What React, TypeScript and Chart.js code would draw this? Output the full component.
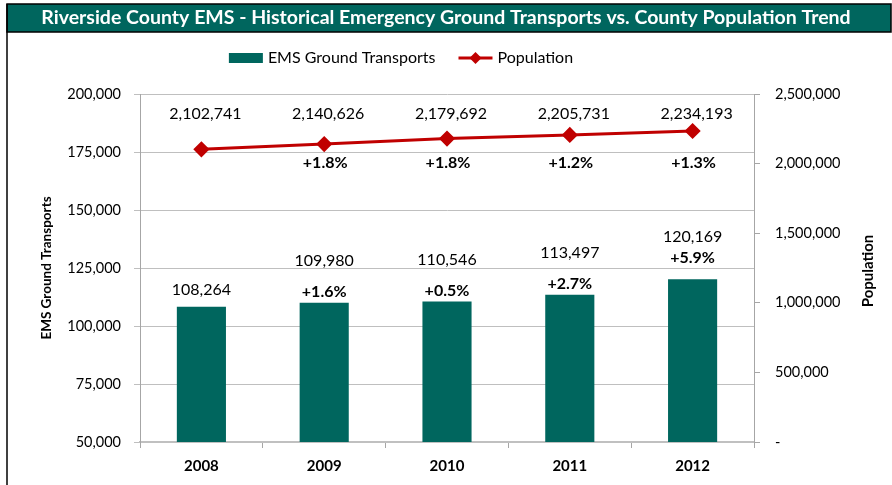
import React, { useEffect, useRef } from "react";
import { Chart, registerables } from "chart.js";

Chart.register(...registerables);

const TITLE =
  "Riverside County EMS - Historical Emergency Ground Transports vs. County Population Trend";
const years = ["2008", "2009", "2010", "2011", "2012"];
const transports = [108264, 109980, 110546, 113497, 120169];
const population = [2102741, 2140626, 2179692, 2205731, 2234193];
const leftAxisTitle = "EMS Ground Transports";
const rightAxisTitle = "Population";
const seriesNames = ["EMS Ground Transports", "Population"];

const TEAL = "#00665E";
const RED = "#C00000";
const FONT = 'Lato, "Open Sans", "DejaVu Sans", sans-serif';

const fmt = (n: number) => n.toLocaleString("en-US");
const pct = (arr: number[], i: number) =>
  "+" + ((arr[i] / arr[i - 1] - 1) * 100).toFixed(1) + "%";

// label lift (px) above bar top for the % labels
const barPctLift = [0, 11, 11, 11, 21];

const decor = {
  id: "decor",
  beforeDraw(chart: any) {
    const { ctx } = chart;
    ctx.save();
    ctx.fillStyle = TEAL;
    ctx.fillRect(7, 4, 884, 28);
    ctx.strokeStyle = "#000";
    ctx.lineWidth = 1.5;
    ctx.strokeRect(7, 4, 884, 28);
    ctx.beginPath();
    ctx.moveTo(7, 4);
    ctx.lineTo(7, 485);
    ctx.stroke();
    ctx.restore();
  },
  afterDatasetsDraw(chart: any) {
    const { ctx, chartArea } = chart;
    const barMeta = chart.getDatasetMeta(0);
    const lineMeta = chart.getDatasetMeta(1);
    ctx.save();
    ctx.textAlign = "center";
    ctx.textBaseline = "middle";
    ctx.fillStyle = "#000";
    for (let i = 0; i < years.length; i++) {
      const b = barMeta.data[i];
      const p = lineMeta.data[i];
      ctx.font = `16px ${FONT}`;
      const vy = i === 0 ? b.y - 17 : b.y - 42;
      ctx.fillText(fmt(transports[i]), b.x, vy);
      if (i > 0) {
        ctx.font = `bold 16px ${FONT}`;
        ctx.fillText(pct(transports, i), b.x, b.y - barPctLift[i]);
      }
      ctx.font = `16px ${FONT}`;
      ctx.fillText(fmt(population[i]), p.x + 4, chartArea.top + 20);
      if (i > 0) {
        ctx.font = `bold 16px ${FONT}`;
        ctx.fillText(pct(population, i), p.x + 1, chartArea.top + 69);
      }
    }
    ctx.restore();
  },
  afterDraw(chart: any) {
    const { ctx } = chart;
    ctx.save();
    ctx.font = `16px ${FONT}`;
    ctx.textBaseline = "middle";
    ctx.textAlign = "left";
    const sw = 34;
    const gap = 5;
    const between = 23;
    const w1 = ctx.measureText(seriesNames[0]).width;
    const w2 = ctx.measureText(seriesNames[1]).width;
    const total = sw + gap + w1 + between + sw + gap + w2;
    let x = 401 - total / 2;
    const cy = 58;
    ctx.fillStyle = TEAL;
    ctx.fillRect(x, cy - 5, sw, 10);
    ctx.fillStyle = "#000";
    ctx.fillText(seriesNames[0], x + sw + gap, cy);
    x += sw + gap + w1 + between;
    ctx.strokeStyle = RED;
    ctx.lineWidth = 3;
    ctx.beginPath();
    ctx.moveTo(x, cy);
    ctx.lineTo(x + sw, cy);
    ctx.stroke();
    ctx.fillStyle = RED;
    ctx.beginPath();
    const dx = x + sw / 2;
    ctx.moveTo(dx, cy - 6);
    ctx.lineTo(dx + 6, cy);
    ctx.lineTo(dx, cy + 6);
    ctx.lineTo(dx - 6, cy);
    ctx.closePath();
    ctx.fill();
    ctx.fillStyle = "#000";
    ctx.fillText(seriesNames[1], x + sw + gap, cy);
    ctx.translate(868, 271);
    ctx.rotate(-Math.PI / 2);
    ctx.textAlign = "center";
    ctx.font = `bold 15px ${FONT}`;
    ctx.fillText(rightAxisTitle, 0, 0);
    ctx.restore();
  },
};

export default function App() {
  const ref = useRef<HTMLCanvasElement>(null);
  useEffect(() => {
    document.body.style.margin = "0";
    Chart.defaults.font.family = FONT;
    const chart = new Chart(ref.current!, {
      type: "bar",
      data: {
        labels: years,
        datasets: [
          {
            type: "bar",
            label: seriesNames[0],
            data: transports,
            backgroundColor: TEAL,
            yAxisID: "y",
            barPercentage: 0.4,
            categoryPercentage: 1,
            order: 2,
          },
          {
            type: "line",
            label: seriesNames[1],
            data: population,
            borderColor: RED,
            backgroundColor: RED,
            borderWidth: 3,
            pointStyle: "rectRot",
            pointRadius: 6,
            pointBackgroundColor: RED,
            pointBorderColor: RED,
            yAxisID: "y2",
            order: 1,
          },
        ],
      } as any,
      options: {
        animation: false,
        responsive: false,
        devicePixelRatio: 1,
        layout: { padding: { left: 0, right: 0, top: 0, bottom: 1 } },
        plugins: {
          legend: { display: false },
          tooltip: { enabled: false },
          title: {
            display: true,
            text: TITLE,
            color: "#fff",
            font: { family: FONT, size: 19.5, weight: "bold" },
            padding: { top: 6.3, bottom: 64.3 },
          },
        },
        scales: {
          x: {
            type: "category",
            offset: true,
            grid: {
              offset: true,
              drawOnChartArea: false,
              tickLength: 6,
              color: "#A6A6A6",
            },
            border: { color: "#C0C0C0", width: 2 },
            ticks: {
              color: "#000",
              padding: 9,
              font: { size: 15, weight: "bold" },
            },
          },
          y: {
            position: "left",
            min: 50000,
            max: 200000,
            ticks: {
              stepSize: 25000,
              color: "#000",
              padding: 13,
              font: { size: 14.5 },
              callback: (v: any) => fmt(Number(v)),
            },
            grid: { color: "#BFBFBF", tickLength: 6 },
            border: { color: "#A6A6A6" },
            title: {
              display: true,
              text: leftAxisTitle,
              color: "#000",
              font: { size: 13.5, weight: "bold" },
              padding: { top: 39, bottom: 0 },
            },
            afterFit: (s: any) => {
              s.width = 140;
            },
          },
          y2: {
            position: "right",
            min: 0,
            max: 2500000,
            ticks: {
              stepSize: 500000,
              color: "#000",
              padding: 15,
              font: { size: 14.5 },
              callback: (v: any) => (Number(v) === 0 ? "-" : fmt(Number(v))),
            },
            grid: { drawOnChartArea: false, tickLength: 6, color: "#A6A6A6" },
            border: { color: "#A6A6A6" },
            afterFit: (s: any) => {
              s.width = 138;
            },
          },
        },
      } as any,
      plugins: [decor],
    });
    return () => chart.destroy();
  }, []);
  return (
    <div style={{ width: 892, height: 485 }}>
      <canvas ref={ref} width={892} height={485} style={{ display: "block" }} />
    </div>
  );
}
